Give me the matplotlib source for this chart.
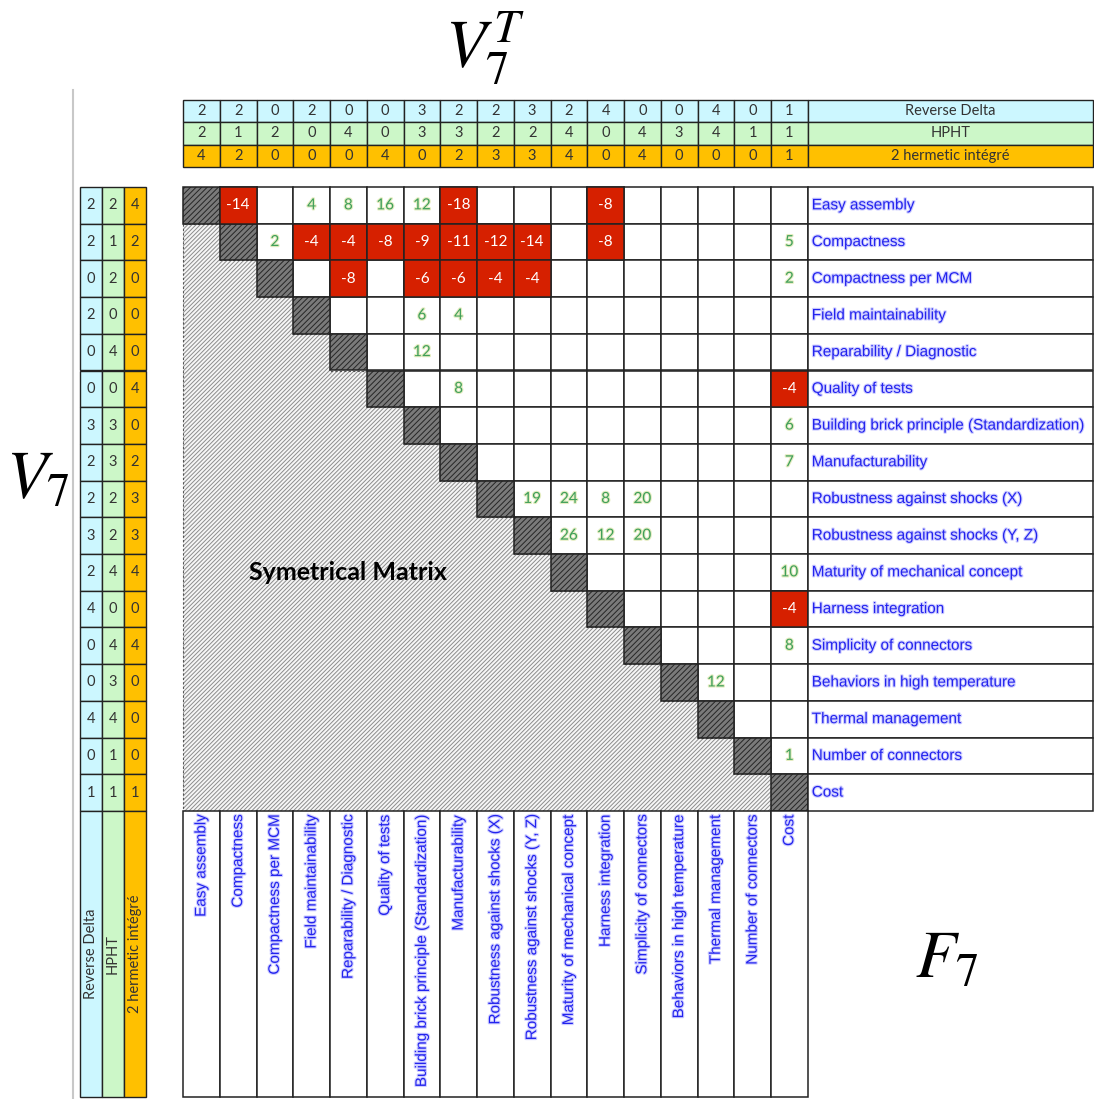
import matplotlib
matplotlib.use("Agg")
import matplotlib.pyplot as plt
from matplotlib.patches import Rectangle, Polygon
import matplotlib.patheffects as pe

plt.rcParams['mathtext.fontset'] = 'stix'
plt.rcParams['hatch.linewidth'] = 0.7

# criteria of the matrix
criteria = ["Easy assembly", "Compactness", "Compactness per MCM", "Field maintainability",
            "Reparability / Diagnostic", "Quality of tests",
            "Building brick principle (Standardization)", "Manufacturability",
            "Robustness against shocks (X)", "Robustness against shocks (Y, Z)",
            "Maturity of mechanical concept", "Harness integration", "Simplicity of connectors",
            "Behaviors in high temperature", "Thermal management", "Number of connectors", "Cost"]

concepts = ["Reverse Delta", "HPHT", "2 hermetic intégré"]
concept_colors = ["#ccf7ff", "#ccf7c8", "#ffc000"]
reverse_delta = [2, 2, 0, 2, 0, 0, 3, 2, 2, 3, 2, 4, 0, 0, 4, 0, 1]
hpht = [2, 1, 2, 0, 4, 0, 3, 3, 2, 2, 4, 0, 4, 3, 4, 1, 1]
hermetic = [4, 2, 0, 0, 0, 4, 0, 2, 3, 3, 4, 0, 4, 0, 0, 0, 1]

# upper triangle values: row index, column index, value
pair_rows = [0, 0, 0, 0, 0, 0, 0,
             1, 1, 1, 1, 1, 1, 1, 1, 1, 1,
             2, 2, 2, 2, 2, 2,
             3, 3, 4, 5, 5, 6, 7,
             8, 8, 8, 8, 9, 9, 9,
             10, 11, 12, 13, 15]
pair_cols = [1, 3, 4, 5, 6, 7, 11,
             2, 3, 4, 5, 6, 7, 8, 9, 11, 16,
             4, 6, 7, 8, 9, 16,
             6, 7, 6, 7, 16, 16, 16,
             9, 10, 11, 12, 10, 11, 12,
             16, 16, 16, 14, 16]
pair_values = [-14, 4, 8, 16, 12, -18, -8,
               2, -4, -4, -8, -9, -11, -12, -14, -8, 5,
               -8, -6, -6, -4, -4, 2,
               6, 4, 12, 8, -4, 6, 7,
               19, 24, 8, 20, 26, 12, 20,
               10, -4, 8, 12, 1]

# layout (pixels)
N = len(criteria)
X0, CW = 183, 36.75
Y0, RH = 187, 36.7
TY0, TRH = 100, 22.3
LX0, LCW = 80, 22
XR = 1093
YB = 1097
XL = X0 + N * CW
YL = Y0 + N * RH

RED = "#d62000"
BLUE = "#2323ee"
GREEN = "#3f9f5a"
EDGE = "#222222"

fig = plt.figure(figsize=(10.94, 10.99), dpi=100)
ax = fig.add_axes([0, 0, 1, 1])
ax.set_xlim(0, 1094)
ax.set_ylim(1099, 0)
ax.axis('off')

blue_fx = [pe.withStroke(linewidth=1.6, foreground="#cfcfff")]
green_fx = [pe.withStroke(linewidth=1.6, foreground="#e4ecc0")]

# frame line on the left
ax.plot([73, 73], [90, 1099], color="#c8c8c8", lw=1.5)

# top table (transposed values)
series = [reverse_delta, hpht, hermetic]
for k, vals in enumerate(series):
    y = TY0 + k * TRH
    for j, v in enumerate(vals):
        ax.add_patch(Rectangle((X0 + j * CW, y), CW, TRH, fc=concept_colors[k], ec=EDGE, lw=1))
        ax.text(X0 + (j + 0.5) * CW, y + TRH / 2, str(v), ha='center', va='center',
                fontsize=10.5, family='Lato', color="#333333")
    ax.add_patch(Rectangle((XL, y), XR - XL, TRH, fc=concept_colors[k], ec=EDGE, lw=1))
    ax.text((XL + XR) / 2, y + TRH / 2, concepts[k], ha='center', va='center',
            fontsize=10.5, family='Lato', color="#333333")

# left table
for k, vals in enumerate(series):
    x = LX0 + k * LCW
    for i, v in enumerate(vals):
        ax.add_patch(Rectangle((x, Y0 + i * RH), LCW, RH, fc=concept_colors[k], ec=EDGE, lw=1))
        ax.text(x + LCW / 2, Y0 + (i + 0.5) * RH, str(v), ha='center', va='center',
                fontsize=10.5, family='Lato', color="#333333")
    ax.add_patch(Rectangle((x, YL), LCW, YB - YL, fc=concept_colors[k], ec=EDGE, lw=1))
    ax.text(x + LCW / 2, (YL + YB) / 2, concepts[k], ha='center', va='center', rotation=90,
            fontsize=10.5, family='Lato', color="#333333")

# upper triangle white cells
for i in range(N):
    for j in range(i + 1, N):
        ax.add_patch(Rectangle((X0 + j * CW, Y0 + i * RH), CW, RH, fc='white', ec=EDGE, lw=1.1))

# lower triangle as one staircase polygon
pts = [(X0, Y0 + RH), (X0, YL)]
for i in range(N - 1, 0, -1):
    pts.append((X0 + i * CW, Y0 + (i + 1) * RH))
    pts.append((X0 + i * CW, Y0 + i * RH))
ax.add_patch(Polygon(pts, closed=True, fc="#f6f6f6", ec="#8c8c8c", hatch='////////', lw=0))
ax.add_patch(Polygon(pts, closed=True, fill=False, ec="#555555", lw=0.8, ls=(0, (2, 2))))

# diagonal cells
for i in range(N):
    ax.add_patch(Rectangle((X0 + i * CW, Y0 + i * RH), CW, RH, fc="#7a7a7a", ec="#262626",
                           hatch='//////', lw=0))
    ax.add_patch(Rectangle((X0 + i * CW, Y0 + i * RH), CW, RH, fill=False, ec=EDGE, lw=1.1))

# values
for i, j, v in zip(pair_rows, pair_cols, pair_values):
    cx = X0 + (j + 0.5) * CW
    cy = Y0 + (i + 0.5) * RH
    if v < 0:
        ax.add_patch(Rectangle((X0 + j * CW, Y0 + i * RH), CW, RH, fc=RED, ec=EDGE, lw=1.1))
        ax.text(cx, cy, str(v), ha='center', va='center', fontsize=11, family='Lato',
                color='white')
    else:
        ax.text(cx, cy, str(v), ha='center', va='center', fontsize=11, family='Lato',
                color=GREEN, path_effects=green_fx)

ax.text(348, 573, "Symetrical Matrix", ha='center', va='center', fontsize=18,
        family='Lato', fontweight='bold', color='black')

# right labels
for i, name in enumerate(criteria):
    ax.add_patch(Rectangle((XL, Y0 + i * RH), XR - XL, RH, fc='white', ec=EDGE, lw=1.1))
    ax.text(XL + 4, Y0 + (i + 0.5) * RH, name, ha='left', va='center', fontsize=11,
            family='Liberation Sans', color=BLUE, path_effects=blue_fx)

# bottom labels
for j, name in enumerate(criteria):
    ax.add_patch(Rectangle((X0 + j * CW, YL), CW, YB - YL, fc='white', ec=EDGE, lw=1.1))
    ax.text(X0 + (j + 0.5) * CW, YL + 4, name, ha='center', va='top', rotation=90,
            fontsize=11, family='Liberation Sans', color=BLUE, path_effects=blue_fx)

# math labels
ax.text(485, 48, r'$V_7^T$', ha='center', va='center', fontsize=48)
ax.text(38, 478, r'$V_7$', ha='center', va='center', fontsize=48)
ax.text(947, 958, r'$F_7$', ha='center', va='center', fontsize=48)

fig.savefig("out.png", dpi=100)
